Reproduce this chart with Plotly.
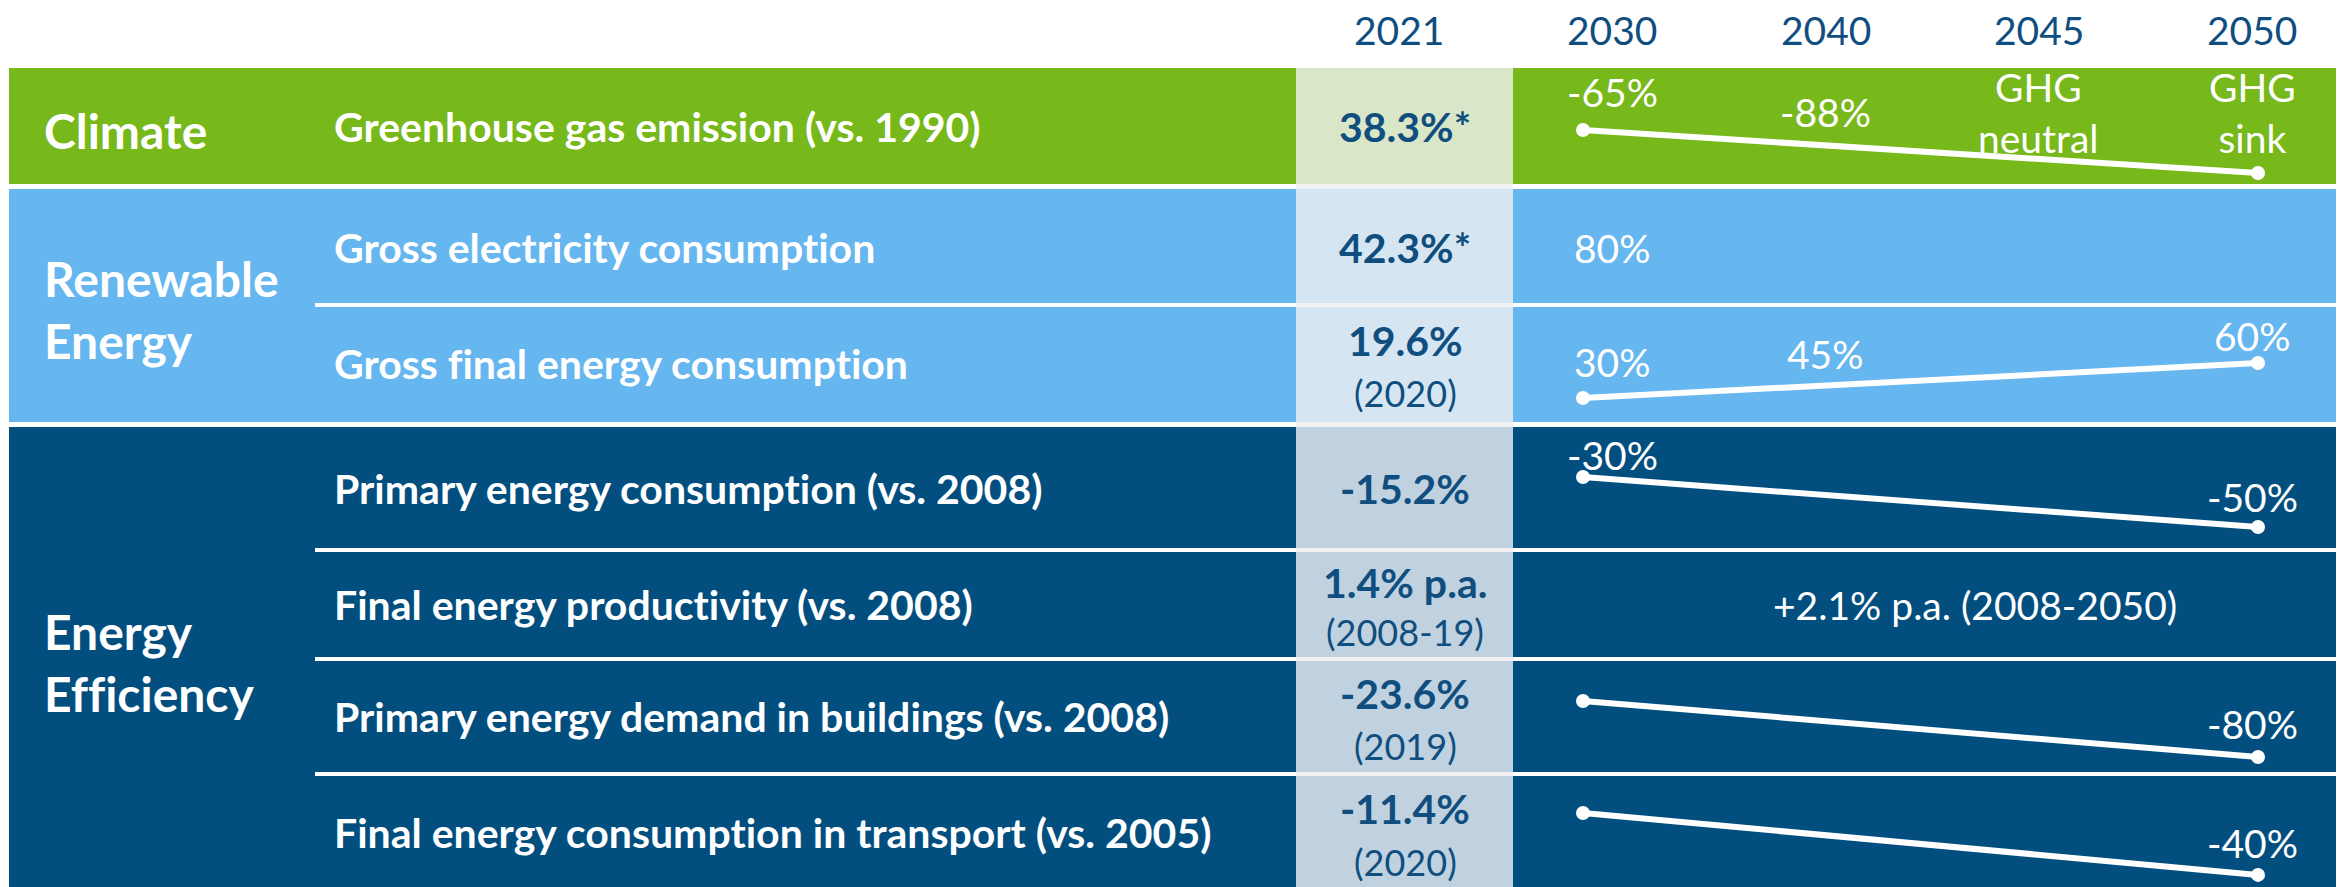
import plotly.graph_objects as go

# ---------------- data ----------------
group_names = ["Climate", "Renewable<br>Energy", "Energy<br>Efficiency"]
group_sizes = [1, 2, 4]
metric_labels = [
    "Greenhouse gas emission (vs. 1990)",
    "Gross electricity consumption",
    "Gross final energy consumption",
    "Primary energy consumption (vs. 2008)",
    "Final energy productivity (vs. 2008)",
    "Primary energy demand in buildings (vs. 2008)",
    "Final energy consumption in transport (vs. 2005)",
]
status_2021 = ["38.3%*", "42.3%*", "19.6%", "-15.2%", "1.4% p.a.", "-23.6%", "-11.4%"]
status_note = ["", "", "(2020)", "", "(2008-19)", "(2019)", "(2020)"]
header_years = ["2021", "2030", "2040", "2045", "2050"]
target_2030 = ["-65%", "80%", "30%", "-30%", "", "", ""]
target_2040 = ["-88%", "", "45%", "", "", "", ""]
target_2045 = ["GHG<br>neutral", "", "", "", "", "", ""]
target_2050 = ["GHG<br>sink", "", "60%", "-50%", "", "-80%", "-40%"]
target_span = ["", "", "", "", "+2.1% p.a. (2008-2050)", "", ""]
trend_line = [True, False, True, True, False, True, True]

# ---------------- layout / style ----------------
W, H = 2348, 887
SLOT_PX, SLOT0_PX = 213.25, 1399.0          # width of a year column, centre of 2021 column
def sx(px):
    return (px - SLOT0_PX) / SLOT_PX

ROW_TOP0 = 68
ROW_H = [116, 116, 117, 123, 109, 115, 116]
GROUP_GAP = 5
LEFT, DIV_LEFT, LABEL_LEFT, RIGHT = 9, 315, 332, 2336
COL21_L, COL21_R = 1296, 1513
GROUP_COLORS = ["#77B81A", "#66B6F0", "#024F7F"]
TINT_COLORS = ["#D9E6C8", "#D5E6F2", "#C0D2DF"]
GAP_GREY = "#F2F2F2"
DARK_TEXT = "#0F4E7E"
FONT = "Lato"
F_GROUP, F_METRIC, F_VALUE, F_NOTE, F_TARGET, F_HEAD = 48, 41, 41, 36, 39, 39

# vertical placement (fraction of row height) of target labels per row
LBL_Y = {
    "2030": [0.21, 0.51, 0.49, 0.23, None, None, None],
    "2040": [0.38, None, 0.42, None, None, None, None],
    "2045": [0.385, None, None, None, None, None, None],
    "2050": [0.385, None, 0.265, 0.57, None, 0.565, 0.595],
}
LINE_Y = [(0.534, 0.905), None, (0.795, 0.496), (0.407, 0.813), None, (0.365, 0.852), (0.336, 0.87)]
LINE_X = (sx(1583), sx(2258))

# row geometry
row_top = []
y = ROW_TOP0
for g, n in enumerate(group_sizes):
    for k in range(n):
        row_top.append(y)
        y += ROW_H[len(row_top) - 1]
    y += GROUP_GAP

fig = go.Figure()
shapes, annotations = [], []

def txt(x, y, text, size, color="white", bold=False, xanchor="center", align="center"):
    annotations.append(dict(x=x, y=y, xref="x", yref="y", text=text, showarrow=False,
                            xanchor=xanchor, yanchor="middle", align=align,
                            font=dict(family=FONT, size=size, color=color,
                                      weight="bold" if bold else "normal")))

# group bands, 2021 column cells, labels
r = 0
for g, n in enumerate(group_sizes):
    top = row_top[r]
    bot = row_top[r + n - 1] + ROW_H[r + n - 1]
    shapes.append(dict(type="rect", xref="x", yref="y", x0=sx(LEFT), x1=sx(RIGHT), y0=top, y1=bot,
                       fillcolor=GROUP_COLORS[g], line_width=0, layer="below"))
    shapes.append(dict(type="rect", xref="x", yref="y", x0=sx(COL21_L), x1=sx(COL21_R), y0=top, y1=bot,
                       fillcolor=TINT_COLORS[g], line_width=0, layer="below"))
    if g > 0:
        shapes.append(dict(type="rect", xref="x", yref="y", x0=sx(COL21_L), x1=sx(COL21_R),
                           y0=top - GROUP_GAP, y1=top, fillcolor=GAP_GREY, line_width=0, layer="below"))
    txt(sx(LEFT + 33), (top + bot) / 2 + 4, group_names[g], F_GROUP, bold=True, xanchor="left", align="left")
    for k in range(1, n):
        yy = row_top[r + k]
        shapes.append(dict(type="line", xref="x", yref="y", x0=sx(DIV_LEFT), x1=sx(RIGHT), y0=yy, y1=yy,
                           line=dict(color="white", width=4)))
        shapes.append(dict(type="line", xref="x", yref="y", x0=sx(COL21_L), x1=sx(COL21_R), y0=yy, y1=yy,
                           line=dict(color=GAP_GREY, width=4)))
    r += n

for i, lab in enumerate(metric_labels):
    top, h = row_top[i], ROW_H[i]
    txt(sx(LABEL_LEFT), top + 0.5 * h, lab, F_METRIC, bold=True, xanchor="left", align="left")
    # 2021 status
    if status_note[i]:
        txt(0.03, top + 0.30 * h, status_2021[i], F_VALUE, DARK_TEXT, bold=True)
        txt(0.03, top + 0.755 * h, status_note[i], F_NOTE, DARK_TEXT)
    else:
        txt(0.03, top + 0.50 * h, status_2021[i], F_VALUE, DARK_TEXT, bold=True)
    # targets
    for yr, arr in (("2030", target_2030), ("2040", target_2040), ("2045", target_2045), ("2050", target_2050)):
        if arr[i]:
            slot = header_years.index(yr)
            txt(slot, top + LBL_Y[yr][i] * h, arr[i], F_TARGET)
    if target_span[i]:
        txt((header_years.index("2030") + header_years.index("2050")) / 2 + 0.2, top + 0.5 * h,
            target_span[i], F_TARGET)
    if trend_line[i]:
        y0f, y1f = LINE_Y[i]
        fig.add_trace(go.Scatter(x=list(LINE_X), y=[top + y0f * h, top + y1f * h], mode="lines+markers",
                                 line=dict(color="white", width=6),
                                 marker=dict(color="white", size=14),
                                 hoverinfo="skip", showlegend=False))

# header years
for k, yr in enumerate(header_years):
    txt(k, 30, yr, F_HEAD, DARK_TEXT)

fig.update_layout(
    width=W, height=H, margin=dict(l=0, r=0, t=0, b=0),
    paper_bgcolor="white", plot_bgcolor="white",
    xaxis=dict(range=[sx(0), sx(W)], visible=False, fixedrange=True),
    yaxis=dict(range=[H, 0], visible=False, fixedrange=True),
    shapes=shapes, annotations=annotations, showlegend=False,
)
fig.write_html(
    "out.html",
    config={"displayModeBar": False},
    post_script=(
        "document.body.style.margin='0';"
        "var s=document.createElement('style');"
        "s.textContent='svg text{font-variant-ligatures:none;font-feature-settings:\"liga\" 0;}';"
        "document.head.appendChild(s);"
    ),
)
